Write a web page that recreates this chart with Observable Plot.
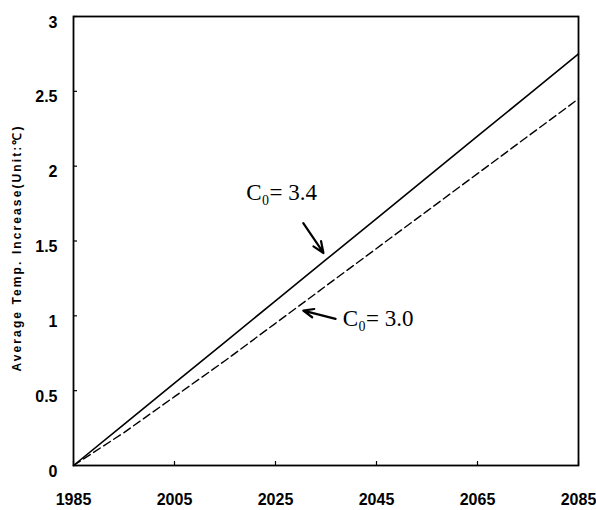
<!DOCTYPE html>
<html>
<head>
<meta charset="utf-8">
<script src="https://cdn.jsdelivr.net/npm/d3@7"></script>
<script src="https://cdn.jsdelivr.net/npm/@observablehq/plot@0.6"></script>
<style>
  html, body { margin: 0; padding: 0; background: #fff; }
  svg { display: block; }
</style>
</head>
<body>
<div id="chart"></div>
<script>
// Data
const years = [1985, 1995, 2005, 2015, 2025, 2035, 2045, 2055, 2065, 2075, 2085];
const tempC34 = [0, 0.275, 0.55, 0.825, 1.10, 1.375, 1.65, 1.925, 2.20, 2.475, 2.75];
const tempC30 = [0, 0.22, 0.46, 0.70, 0.95, 1.20, 1.45, 1.70, 1.95, 2.20, 2.45];
const xTicks = [1985, 2005, 2025, 2045, 2065, 2085];
const yTicks = [0, 0.5, 1, 1.5, 2, 2.5, 3];
const yLabel = "Average Temp. Increase(Unit:℃)";
const labelTexts = ["C₀= 3.4", "C₀= 3.0"];
const labelX = [2026.2, 2038.3];
const labelY = [1.82, 0.98];
const arrowX1 = [2030.5, 2036.9];
const arrowY1 = [1.62, 0.98];
const arrowX2 = [2034.5, 2030.5];
const arrowY2 = [1.42, 1.035];

const s34 = years.map((y, i) => ({year: y, t: tempC34[i]}));
const s30 = years.map((y, i) => ({year: y, t: tempC30[i]}));
const arrows = arrowX1.map((x, i) => ({x1: x, y1: arrowY1[i], x2: arrowX2[i], y2: arrowY2[i]}));
const labels = labelTexts.map((t, i) => ({t, x: labelX[i], y: labelY[i]}));

const tickFont = {fontFamily: "Liberation Sans, Arial, sans-serif", fontWeight: "bold", fontSize: 16};
const annFont = {fontFamily: "Liberation Serif, Times New Roman, serif", fontSize: 23};

const plot = Plot.plot({
  width: 596,
  height: 510,
  marginLeft: 73,
  marginRight: 18,
  marginTop: 16,
  marginBottom: 45,
  style: {background: "#fff", color: "#000", fontFamily: "Liberation Sans, Arial, sans-serif"},
  x: {domain: [1985, 2085]},
  y: {domain: [0, 3]},
  marks: [
    // inward tick marks
    Plot.axisX({ticks: xTicks, tickSize: 4, text: null, dy: -4, label: null, strokeWidth: 1.2}),
    Plot.axisY({ticks: yTicks, tickSize: 4, text: null, dx: 4, label: null, strokeWidth: 1.2}),
    // tick labels
    Plot.axisX({ticks: xTicks, tickSize: 0, tickPadding: 28, tickFormat: d => String(d), label: null, ...tickFont}),
    Plot.axisY({ticks: yTicks, tickSize: 0, tickPadding: 16, dy: 6, tickFormat: d => String(d), label: null, ...tickFont}),
    Plot.frame({stroke: "#000", strokeWidth: 1.8}),
    Plot.text([yLabel], {
      frameAnchor: "left", text: d => d, rotate: -90, dx: -56, dy: 7, textAnchor: "middle",
      fontFamily: "Liberation Sans, Arial, sans-serif",
      fontWeight: "bold", fontSize: 12
    }),
    Plot.line(s34, {x: "year", y: "t", stroke: "#000", strokeWidth: 1.6}),
    Plot.line(s30, {x: "year", y: "t", stroke: "#000", strokeWidth: 1.4, strokeDasharray: "8,4"}),
    Plot.arrow(arrows, {x1: "x1", y1: "y1", x2: "x2", y2: "y2", stroke: "#000", strokeWidth: 2.2, headLength: 10, headAngle: 45}),
    Plot.text(labels.slice(0, 1), {x: "x", y: "y", text: "t", textAnchor: "middle", ...annFont}),
    Plot.text(labels.slice(1), {x: "x", y: "y", text: "t", textAnchor: "start", ...annFont})
  ]
});
// widen the y-axis title like the reference
d3.select(plot).selectAll("text").filter(function() { return this.textContent === yLabel; })
  .style("letter-spacing", "2.1px");
document.getElementById("chart").appendChild(plot);
</script>
</body>
</html>
